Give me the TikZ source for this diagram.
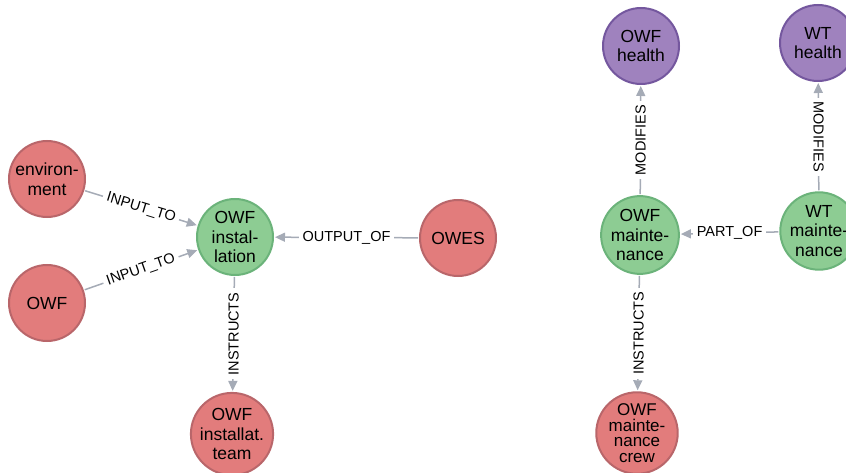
\documentclass[tikz,border=0pt]{standalone}
\usepackage{fontspec}
\setmainfont{Liberation Sans}
\usepackage{xcolor}
\usepackage{tikz}
\usetikzlibrary{arrows.meta}
\definecolor{rosa}{HTML}{E27C7C}
\definecolor{rosaline}{HTML}{B9666A}
\definecolor{mint}{HTML}{8DCC93}
\definecolor{mintline}{HTML}{6BB37A}
\definecolor{lilac}{HTML}{9F82BE}
\definecolor{lilacline}{HTML}{74579E}
\definecolor{edgegray}{HTML}{A5ABB6}

\begin{document}
\begin{tikzpicture}[x=1pt,y=-1pt,
  ent/.style={circle,draw,line width=2pt,minimum size=76pt,inner sep=0pt,
    align=center,font=\fontsize{17.5}{19.5}\selectfont},
  thing/.style={ent,fill=rosa,draw=rosaline},
  activity/.style={ent,fill=mint,draw=mintline},
  state/.style={ent,fill=lilac,draw=lilacline},
  rel/.style={draw=edgegray,line width=1.5pt,shorten >=1pt,shorten <=1pt,
    -{Triangle[length=10pt,width=9pt]}},
  lbl/.style={fill=white,inner sep=4pt,text=black,
    font=\fontsize{14.5}{16}\selectfont}]
  \path[use as bounding box,clip] (0,0) rectangle (846,473);

  % installation part
  \node[thing] (env) at (47,179) {environ-\\ment};
  \node[thing] (owf) at (47,303) {OWF};
  \node[activity] (inst) at (235,237) {OWF\\instal-\\lation};
  \node[thing] (owes) at (458,238) {OWES};
  \node[thing] (team) at (232,434) {OWF\\installat.\\team};

  % maintenance part
  \node[state] (owfhealth) at (641,46) {OWF\\health};
  \node[state] (wthealth) at (818,43) {WT\\health};
  \node[activity] (owfmaint) at (640,235) {OWF\\mainte-\\nance};
  \node[activity] (wtmaint) at (819,231) {WT\\mainte-\\nance};
  \node[thing,font=\fontsize{17}{15.5}\selectfont] (crew) at (637,433)
    {OWF\\mainte-\\nance\\crew};

  \draw[rel] (env) -- node[lbl,sloped] {INPUT\_TO} (inst);
  \draw[rel] (owf) -- node[lbl,sloped] {INPUT\_TO} (inst);
  \draw[rel] (owes) -- node[lbl] {OUTPUT\_OF} (inst);
  \draw[rel] (inst) -- node[lbl,rotate=90] {INSTRUCTS} (team);

  \draw[rel] (owfmaint) -- node[lbl,rotate=90] {MODIFIES} (owfhealth);
  \draw[rel] (wtmaint) -- node[lbl,rotate=-90] {MODIFIES} (wthealth);
  \draw[rel] (wtmaint) -- node[lbl] {PART\_OF} (owfmaint);
  \draw[rel] (owfmaint) -- node[lbl,rotate=90] {INSTRUCTS} (crew);
\end{tikzpicture}
\end{document}
